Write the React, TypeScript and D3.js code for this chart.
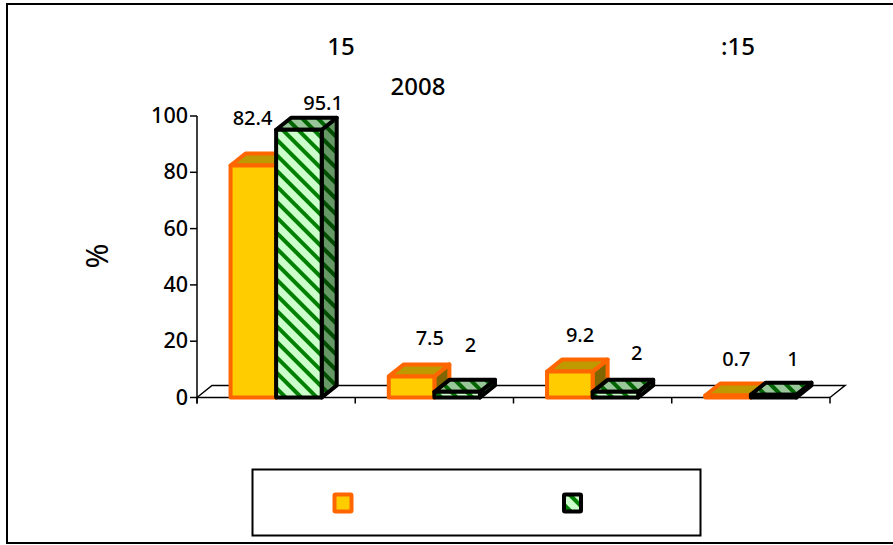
import React from 'react';
import * as d3 from 'd3';

const categories = ['a', 'b', 'c', 'd'];
const seriesNames = ['s1', 's2'];
const valuesA = [82.4, 7.5, 9.2, 0.7];
const valuesB = [95.1, 2, 2, 1];
const labelsA = ['82.4', '7.5', '9.2', '0.7'];
const labelsB = ['95.1', '2', '2', '1'];
const yTicks = [0, 20, 40, 60, 80, 100];

const width = 893;
const height = 545;
const font = '"Noto Sans", sans-serif';

const left = 197;
const right = 830;
const y = d3.scaleLinear().domain([0, 100]).range([397.5, 116]);
const x0 = d3.scaleBand<string>().domain(categories).range([left, right]);
const x1 = d3.scaleBand<string>().domain(seriesNames)
  .range([0, x0.bandwidth()]).paddingOuter(0.736).paddingInner(0);
// fake 3d offset of the bars
const dx = 15;
const dy = -12;

// the labels were hand placed in the original, so each has its own nudge
const labelNudgeA = [[22, -40.5], [41, -31], [33, -30], [31, -30]];
const labelNudgeB = [[47, -20], [36, -40], [44, -32], [42, -29]];

function Bar3D({ x, w, top, fill, topFill, sideFill, stroke, sw }: any) {
  const b = y(0);
  const pts = (p: number[][]) => p.map(d => d.join(',')).join(' ');
  return (
    <g stroke={stroke} strokeWidth={sw} strokeLinejoin="round">
      <polygon fill={sideFill} points={pts([[x + w, top], [x + w + dx, top + dy], [x + w + dx, b + dy], [x + w, b]])} />
      <polygon fill={topFill} points={pts([[x, top], [x + dx, top + dy], [x + w + dx, top + dy], [x + w, top]])} />
      <rect fill={fill} x={x} y={top} width={w} height={b - top} />
    </g>
  );
}

function Pattern({ id, bg, fg }: { id: string; bg: string; fg: string }) {
  return (
    <pattern id={id} width={11} height={11} patternUnits="userSpaceOnUse" patternTransform="rotate(45)">
      <rect width={11} height={11} fill={bg} />
      <rect width={11} height={4} fill={fg} />
    </pattern>
  );
}

export default function App() {
  const w = x1.bandwidth();
  return (
    <svg width={width} height={height} style={{ position: 'fixed', left: 0, top: 0, background: '#fff' }}>
      <defs>
        <Pattern id="hatch" bg="#ccffcc" fg="#008000" />
        <Pattern id="hatchTop" bg="#99c799" fg="#006400" />
        <Pattern id="hatchSide" bg="#669966" fg="#004d00" />
      </defs>
      <rect x={7} y={4} width={900} height={539} fill="#fff" stroke="#000" strokeWidth={2} />

      <g fill="#000" fontFamily={font} fontWeight={500} fontSize={24} textAnchor="middle">
        <text x={341} y={55}>15</text>
        <text x={738} y={55}>:15</text>
        <text x={418} y={95}>2008</text>
      </g>

      {/* floor */}
      <path d={`M${left},${y(0)}L${left + dx},${y(0) + dy}H${right + dx}L${right},${y(0)}`} fill="none" stroke="#000" strokeWidth={1.5} />

      {/* axes */}
      <g stroke="#000" strokeWidth={1.5}>
        <line x1={left} x2={left} y1={y(100)} y2={y(0) + 6} />
        <line x1={left} x2={right} y1={y(0)} y2={y(0)} />
        {yTicks.map(t => <line key={t} x1={left - 7} x2={left} y1={y(t)} y2={y(t)} />)}
        {[...categories.map(c => x0(c)!), right].map(v => <line key={v} x1={v} x2={v} y1={y(0)} y2={y(0) + 6} />)}
      </g>
      <g fontFamily={font} fontWeight={500} fontSize={21.5} textAnchor="end">
        {yTicks.map(t => <text key={t} x={188} y={y(t) + 7}>{t}</text>)}
      </g>
      <text transform="translate(108,256) rotate(-90)" fontFamily={font} fontSize={30} textAnchor="middle">%</text>

      {/* bars */}
      {categories.map((c, i) => {
        const xa = x0(c)! + x1('s1')!;
        const xb = x0(c)! + x1('s2')!;
        return (
          <g key={c}>
            <Bar3D x={xa} w={w} top={y(valuesA[i])} fill="#ffcc00" topFill="#bf9900" sideFill="#806600" stroke="#ff6600" sw={4} />
            <Bar3D x={xb} w={w} top={y(valuesB[i])} fill="url(#hatch)" topFill="url(#hatchTop)" sideFill="url(#hatchSide)" stroke="#000" sw={4} />
          </g>
        );
      })}

      {/* value labels */}
      <g fontFamily={font} fontSize={20} fontWeight={500} textAnchor="middle">
        {categories.map((c, i) => (
          <g key={c}>
            <text x={x0(c)! + x1('s1')! + labelNudgeA[i][0]} y={y(valuesA[i]) + labelNudgeA[i][1]}>{labelsA[i]}</text>
            <text x={x0(c)! + x1('s2')! + labelNudgeB[i][0]} y={y(valuesB[i]) + labelNudgeB[i][1]}>{labelsB[i]}</text>
          </g>
        ))}
      </g>

      {/* legend */}
      <rect x={252.5} y={469.5} width={448} height={66} fill="#fff" stroke="#000" strokeWidth={2} />
      <rect x={334.5} y={494.5} width={17} height={17} rx={1} fill="#ffcc00" stroke="#ff6600" strokeWidth={4} />
      <rect x={564} y={494.5} width={17} height={17} rx={1} fill="url(#hatch)" stroke="#000" strokeWidth={4} />
    </svg>
  );
}
